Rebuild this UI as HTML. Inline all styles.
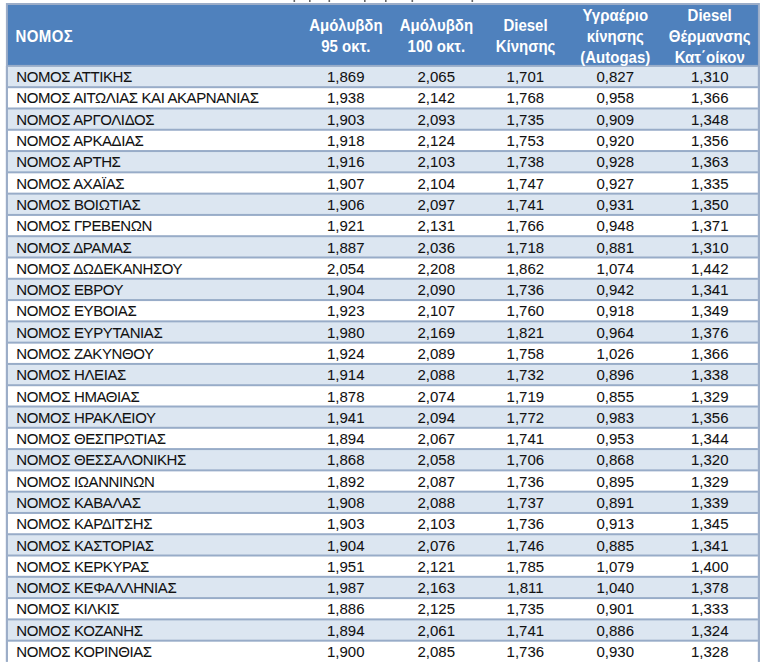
<!DOCTYPE html>
<html><head><meta charset="utf-8"><style>
html,body{margin:0;padding:0;background:#fff;}
body{width:768px;height:668px;overflow:hidden;position:relative;font-family:"Liberation Sans",sans-serif;}
svg{position:absolute;left:0;top:0;}
.t{position:absolute;font-size:15px;line-height:21px;color:#111;white-space:nowrap;-webkit-text-stroke:0.05px #111;transform:scaleY(1.03);transform-origin:0 15.7px;}
.n{letter-spacing:-0.4px;}
.c{width:120px;text-align:center;letter-spacing:0px;}
.h{position:absolute;font-size:15px;font-weight:bold;color:#fff;white-space:nowrap;text-align:center;width:140px;line-height:19.8px;transform:scaleY(1.06);transform-origin:0 0;}
</style></head><body>

<svg width="768" height="668" viewBox="0 0 768 668">
<rect x="293.5" y="0" width="1.6" height="2" fill="#666"/>
<rect x="309" y="0" width="1.6" height="2" fill="#666"/>
<rect x="328.5" y="0" width="1.6" height="2" fill="#666"/>
<rect x="364" y="0" width="1.6" height="2" fill="#666"/>
<rect x="385" y="0" width="1.6" height="2" fill="#666"/>
<rect x="411.5" y="0" width="1.6" height="2" fill="#666"/>
<rect x="471.5" y="0" width="1.6" height="2" fill="#666"/>
<rect x="5.9" y="3" width="754.0" height="658.8" fill="#9cadc8"/>
<rect x="7.9" y="5" width="750.0" height="60.900000000000006" fill="#4f81bd"/>
<rect x="7.9" y="65.90" width="750.0" height="21.29" fill="#dce6f1"/>
<rect x="7.9" y="87.19" width="750.0" height="21.29" fill="#ffffff"/>
<rect x="7.9" y="108.48" width="750.0" height="21.29" fill="#dce6f1"/>
<rect x="7.9" y="129.76" width="750.0" height="21.29" fill="#ffffff"/>
<rect x="7.9" y="151.05" width="750.0" height="21.29" fill="#dce6f1"/>
<rect x="7.9" y="172.34" width="750.0" height="21.29" fill="#ffffff"/>
<rect x="7.9" y="193.63" width="750.0" height="21.29" fill="#dce6f1"/>
<rect x="7.9" y="214.92" width="750.0" height="21.29" fill="#ffffff"/>
<rect x="7.9" y="236.20" width="750.0" height="21.29" fill="#dce6f1"/>
<rect x="7.9" y="257.49" width="750.0" height="21.29" fill="#ffffff"/>
<rect x="7.9" y="278.78" width="750.0" height="21.29" fill="#dce6f1"/>
<rect x="7.9" y="300.07" width="750.0" height="21.29" fill="#ffffff"/>
<rect x="7.9" y="321.36" width="750.0" height="21.29" fill="#dce6f1"/>
<rect x="7.9" y="342.64" width="750.0" height="21.29" fill="#ffffff"/>
<rect x="7.9" y="363.93" width="750.0" height="21.29" fill="#dce6f1"/>
<rect x="7.9" y="385.22" width="750.0" height="21.29" fill="#ffffff"/>
<rect x="7.9" y="406.51" width="750.0" height="21.29" fill="#dce6f1"/>
<rect x="7.9" y="427.80" width="750.0" height="21.29" fill="#ffffff"/>
<rect x="7.9" y="449.08" width="750.0" height="21.29" fill="#dce6f1"/>
<rect x="7.9" y="470.37" width="750.0" height="21.29" fill="#ffffff"/>
<rect x="7.9" y="491.66" width="750.0" height="21.29" fill="#dce6f1"/>
<rect x="7.9" y="512.95" width="750.0" height="21.29" fill="#ffffff"/>
<rect x="7.9" y="534.24" width="750.0" height="21.29" fill="#dce6f1"/>
<rect x="7.9" y="555.52" width="750.0" height="21.29" fill="#ffffff"/>
<rect x="7.9" y="576.81" width="750.0" height="21.29" fill="#dce6f1"/>
<rect x="7.9" y="598.10" width="750.0" height="21.29" fill="#ffffff"/>
<rect x="7.9" y="619.39" width="750.0" height="21.29" fill="#dce6f1"/>
<rect x="7.9" y="640.68" width="750.0" height="26.12" fill="#ffffff"/>
<rect x="7.9" y="64.90" width="750.0" height="2" fill="#98acc8"/>
<rect x="7.9" y="86.19" width="750.0" height="2" fill="#98acc8"/>
<rect x="7.9" y="107.48" width="750.0" height="2" fill="#98acc8"/>
<rect x="7.9" y="128.76" width="750.0" height="2" fill="#98acc8"/>
<rect x="7.9" y="150.05" width="750.0" height="2" fill="#98acc8"/>
<rect x="7.9" y="171.34" width="750.0" height="2" fill="#98acc8"/>
<rect x="7.9" y="192.63" width="750.0" height="2" fill="#98acc8"/>
<rect x="7.9" y="213.92" width="750.0" height="2" fill="#98acc8"/>
<rect x="7.9" y="235.20" width="750.0" height="2" fill="#98acc8"/>
<rect x="7.9" y="256.49" width="750.0" height="2" fill="#98acc8"/>
<rect x="7.9" y="277.78" width="750.0" height="2" fill="#98acc8"/>
<rect x="7.9" y="299.07" width="750.0" height="2" fill="#98acc8"/>
<rect x="7.9" y="320.36" width="750.0" height="2" fill="#98acc8"/>
<rect x="7.9" y="341.64" width="750.0" height="2" fill="#98acc8"/>
<rect x="7.9" y="362.93" width="750.0" height="2" fill="#98acc8"/>
<rect x="7.9" y="384.22" width="750.0" height="2" fill="#98acc8"/>
<rect x="7.9" y="405.51" width="750.0" height="2" fill="#98acc8"/>
<rect x="7.9" y="426.80" width="750.0" height="2" fill="#98acc8"/>
<rect x="7.9" y="448.08" width="750.0" height="2" fill="#98acc8"/>
<rect x="7.9" y="469.37" width="750.0" height="2" fill="#98acc8"/>
<rect x="7.9" y="490.66" width="750.0" height="2" fill="#98acc8"/>
<rect x="7.9" y="511.95" width="750.0" height="2" fill="#98acc8"/>
<rect x="7.9" y="533.24" width="750.0" height="2" fill="#98acc8"/>
<rect x="7.9" y="554.52" width="750.0" height="2" fill="#98acc8"/>
<rect x="7.9" y="575.81" width="750.0" height="2" fill="#98acc8"/>
<rect x="7.9" y="597.10" width="750.0" height="2" fill="#98acc8"/>
<rect x="7.9" y="618.39" width="750.0" height="2" fill="#98acc8"/>
<rect x="7.9" y="639.68" width="750.0" height="2" fill="#98acc8"/>
<rect x="0" y="661.8" width="768" height="20" fill="#fff"/>
<rect x="5.9" y="65.9" width="2" height="595.9" fill="#9cadc8"/>
<rect x="757.9" y="65.9" width="2" height="595.9" fill="#9cadc8"/>
</svg>
<div class="t n" style="left:16.3px;top:66.20px">ΝΟΜΟΣ ΑΤΤΙΚΗΣ</div>
<div class="t c" style="left:285.80px;top:66.20px">1,869</div>
<div class="t c" style="left:376.30px;top:66.20px">2,065</div>
<div class="t c" style="left:465.40px;top:66.20px">1,701</div>
<div class="t c" style="left:555.30px;top:66.20px">0,827</div>
<div class="t c" style="left:649.80px;top:66.20px">1,310</div>
<div class="t n" style="left:16.3px;top:87.49px">ΝΟΜΟΣ ΑΙΤΩΛΙΑΣ ΚΑΙ ΑΚΑΡΝΑΝΙΑΣ</div>
<div class="t c" style="left:285.80px;top:87.49px">1,938</div>
<div class="t c" style="left:376.30px;top:87.49px">2,142</div>
<div class="t c" style="left:465.40px;top:87.49px">1,768</div>
<div class="t c" style="left:555.30px;top:87.49px">0,958</div>
<div class="t c" style="left:649.80px;top:87.49px">1,366</div>
<div class="t n" style="left:16.3px;top:108.78px">ΝΟΜΟΣ ΑΡΓΟΛΙΔΟΣ</div>
<div class="t c" style="left:285.80px;top:108.78px">1,903</div>
<div class="t c" style="left:376.30px;top:108.78px">2,093</div>
<div class="t c" style="left:465.40px;top:108.78px">1,735</div>
<div class="t c" style="left:555.30px;top:108.78px">0,909</div>
<div class="t c" style="left:649.80px;top:108.78px">1,348</div>
<div class="t n" style="left:16.3px;top:130.06px">ΝΟΜΟΣ ΑΡΚΑΔΙΑΣ</div>
<div class="t c" style="left:285.80px;top:130.06px">1,918</div>
<div class="t c" style="left:376.30px;top:130.06px">2,124</div>
<div class="t c" style="left:465.40px;top:130.06px">1,753</div>
<div class="t c" style="left:555.30px;top:130.06px">0,920</div>
<div class="t c" style="left:649.80px;top:130.06px">1,356</div>
<div class="t n" style="left:16.3px;top:151.35px">ΝΟΜΟΣ ΑΡΤΗΣ</div>
<div class="t c" style="left:285.80px;top:151.35px">1,916</div>
<div class="t c" style="left:376.30px;top:151.35px">2,103</div>
<div class="t c" style="left:465.40px;top:151.35px">1,738</div>
<div class="t c" style="left:555.30px;top:151.35px">0,928</div>
<div class="t c" style="left:649.80px;top:151.35px">1,363</div>
<div class="t n" style="left:16.3px;top:172.64px">ΝΟΜΟΣ ΑΧΑΪΑΣ</div>
<div class="t c" style="left:285.80px;top:172.64px">1,907</div>
<div class="t c" style="left:376.30px;top:172.64px">2,104</div>
<div class="t c" style="left:465.40px;top:172.64px">1,747</div>
<div class="t c" style="left:555.30px;top:172.64px">0,927</div>
<div class="t c" style="left:649.80px;top:172.64px">1,335</div>
<div class="t n" style="left:16.3px;top:193.93px">ΝΟΜΟΣ ΒΟΙΩΤΙΑΣ</div>
<div class="t c" style="left:285.80px;top:193.93px">1,906</div>
<div class="t c" style="left:376.30px;top:193.93px">2,097</div>
<div class="t c" style="left:465.40px;top:193.93px">1,741</div>
<div class="t c" style="left:555.30px;top:193.93px">0,931</div>
<div class="t c" style="left:649.80px;top:193.93px">1,350</div>
<div class="t n" style="left:16.3px;top:215.22px">ΝΟΜΟΣ ΓΡΕΒΕΝΩΝ</div>
<div class="t c" style="left:285.80px;top:215.22px">1,921</div>
<div class="t c" style="left:376.30px;top:215.22px">2,131</div>
<div class="t c" style="left:465.40px;top:215.22px">1,766</div>
<div class="t c" style="left:555.30px;top:215.22px">0,948</div>
<div class="t c" style="left:649.80px;top:215.22px">1,371</div>
<div class="t n" style="left:16.3px;top:236.50px">ΝΟΜΟΣ ΔΡΑΜΑΣ</div>
<div class="t c" style="left:285.80px;top:236.50px">1,887</div>
<div class="t c" style="left:376.30px;top:236.50px">2,036</div>
<div class="t c" style="left:465.40px;top:236.50px">1,718</div>
<div class="t c" style="left:555.30px;top:236.50px">0,881</div>
<div class="t c" style="left:649.80px;top:236.50px">1,310</div>
<div class="t n" style="left:16.3px;top:257.79px">ΝΟΜΟΣ ΔΩΔΕΚΑΝΗΣΟΥ</div>
<div class="t c" style="left:285.80px;top:257.79px">2,054</div>
<div class="t c" style="left:376.30px;top:257.79px">2,208</div>
<div class="t c" style="left:465.40px;top:257.79px">1,862</div>
<div class="t c" style="left:555.30px;top:257.79px">1,074</div>
<div class="t c" style="left:649.80px;top:257.79px">1,442</div>
<div class="t n" style="left:16.3px;top:279.08px">ΝΟΜΟΣ ΕΒΡΟΥ</div>
<div class="t c" style="left:285.80px;top:279.08px">1,904</div>
<div class="t c" style="left:376.30px;top:279.08px">2,090</div>
<div class="t c" style="left:465.40px;top:279.08px">1,736</div>
<div class="t c" style="left:555.30px;top:279.08px">0,942</div>
<div class="t c" style="left:649.80px;top:279.08px">1,341</div>
<div class="t n" style="left:16.3px;top:300.37px">ΝΟΜΟΣ ΕΥΒΟΙΑΣ</div>
<div class="t c" style="left:285.80px;top:300.37px">1,923</div>
<div class="t c" style="left:376.30px;top:300.37px">2,107</div>
<div class="t c" style="left:465.40px;top:300.37px">1,760</div>
<div class="t c" style="left:555.30px;top:300.37px">0,918</div>
<div class="t c" style="left:649.80px;top:300.37px">1,349</div>
<div class="t n" style="left:16.3px;top:321.66px">ΝΟΜΟΣ ΕΥΡΥΤΑΝΙΑΣ</div>
<div class="t c" style="left:285.80px;top:321.66px">1,980</div>
<div class="t c" style="left:376.30px;top:321.66px">2,169</div>
<div class="t c" style="left:465.40px;top:321.66px">1,821</div>
<div class="t c" style="left:555.30px;top:321.66px">0,964</div>
<div class="t c" style="left:649.80px;top:321.66px">1,376</div>
<div class="t n" style="left:16.3px;top:342.94px">ΝΟΜΟΣ ΖΑΚΥΝΘΟΥ</div>
<div class="t c" style="left:285.80px;top:342.94px">1,924</div>
<div class="t c" style="left:376.30px;top:342.94px">2,089</div>
<div class="t c" style="left:465.40px;top:342.94px">1,758</div>
<div class="t c" style="left:555.30px;top:342.94px">1,026</div>
<div class="t c" style="left:649.80px;top:342.94px">1,366</div>
<div class="t n" style="left:16.3px;top:364.23px">ΝΟΜΟΣ ΗΛΕΙΑΣ</div>
<div class="t c" style="left:285.80px;top:364.23px">1,914</div>
<div class="t c" style="left:376.30px;top:364.23px">2,088</div>
<div class="t c" style="left:465.40px;top:364.23px">1,732</div>
<div class="t c" style="left:555.30px;top:364.23px">0,896</div>
<div class="t c" style="left:649.80px;top:364.23px">1,338</div>
<div class="t n" style="left:16.3px;top:385.52px">ΝΟΜΟΣ ΗΜΑΘΙΑΣ</div>
<div class="t c" style="left:285.80px;top:385.52px">1,878</div>
<div class="t c" style="left:376.30px;top:385.52px">2,074</div>
<div class="t c" style="left:465.40px;top:385.52px">1,719</div>
<div class="t c" style="left:555.30px;top:385.52px">0,855</div>
<div class="t c" style="left:649.80px;top:385.52px">1,329</div>
<div class="t n" style="left:16.3px;top:406.81px">ΝΟΜΟΣ ΗΡΑΚΛΕΙΟΥ</div>
<div class="t c" style="left:285.80px;top:406.81px">1,941</div>
<div class="t c" style="left:376.30px;top:406.81px">2,094</div>
<div class="t c" style="left:465.40px;top:406.81px">1,772</div>
<div class="t c" style="left:555.30px;top:406.81px">0,983</div>
<div class="t c" style="left:649.80px;top:406.81px">1,356</div>
<div class="t n" style="left:16.3px;top:428.10px">ΝΟΜΟΣ ΘΕΣΠΡΩΤΙΑΣ</div>
<div class="t c" style="left:285.80px;top:428.10px">1,894</div>
<div class="t c" style="left:376.30px;top:428.10px">2,067</div>
<div class="t c" style="left:465.40px;top:428.10px">1,741</div>
<div class="t c" style="left:555.30px;top:428.10px">0,953</div>
<div class="t c" style="left:649.80px;top:428.10px">1,344</div>
<div class="t n" style="left:16.3px;top:449.38px">ΝΟΜΟΣ ΘΕΣΣΑΛΟΝΙΚΗΣ</div>
<div class="t c" style="left:285.80px;top:449.38px">1,868</div>
<div class="t c" style="left:376.30px;top:449.38px">2,058</div>
<div class="t c" style="left:465.40px;top:449.38px">1,706</div>
<div class="t c" style="left:555.30px;top:449.38px">0,868</div>
<div class="t c" style="left:649.80px;top:449.38px">1,320</div>
<div class="t n" style="left:16.3px;top:470.67px">ΝΟΜΟΣ ΙΩΑΝΝΙΝΩΝ</div>
<div class="t c" style="left:285.80px;top:470.67px">1,892</div>
<div class="t c" style="left:376.30px;top:470.67px">2,087</div>
<div class="t c" style="left:465.40px;top:470.67px">1,736</div>
<div class="t c" style="left:555.30px;top:470.67px">0,895</div>
<div class="t c" style="left:649.80px;top:470.67px">1,329</div>
<div class="t n" style="left:16.3px;top:491.96px">ΝΟΜΟΣ ΚΑΒΑΛΑΣ</div>
<div class="t c" style="left:285.80px;top:491.96px">1,908</div>
<div class="t c" style="left:376.30px;top:491.96px">2,088</div>
<div class="t c" style="left:465.40px;top:491.96px">1,737</div>
<div class="t c" style="left:555.30px;top:491.96px">0,891</div>
<div class="t c" style="left:649.80px;top:491.96px">1,339</div>
<div class="t n" style="left:16.3px;top:513.25px">ΝΟΜΟΣ ΚΑΡΔΙΤΣΗΣ</div>
<div class="t c" style="left:285.80px;top:513.25px">1,903</div>
<div class="t c" style="left:376.30px;top:513.25px">2,103</div>
<div class="t c" style="left:465.40px;top:513.25px">1,736</div>
<div class="t c" style="left:555.30px;top:513.25px">0,913</div>
<div class="t c" style="left:649.80px;top:513.25px">1,345</div>
<div class="t n" style="left:16.3px;top:534.54px">ΝΟΜΟΣ ΚΑΣΤΟΡΙΑΣ</div>
<div class="t c" style="left:285.80px;top:534.54px">1,904</div>
<div class="t c" style="left:376.30px;top:534.54px">2,076</div>
<div class="t c" style="left:465.40px;top:534.54px">1,746</div>
<div class="t c" style="left:555.30px;top:534.54px">0,885</div>
<div class="t c" style="left:649.80px;top:534.54px">1,341</div>
<div class="t n" style="left:16.3px;top:555.82px">ΝΟΜΟΣ ΚΕΡΚΥΡΑΣ</div>
<div class="t c" style="left:285.80px;top:555.82px">1,951</div>
<div class="t c" style="left:376.30px;top:555.82px">2,121</div>
<div class="t c" style="left:465.40px;top:555.82px">1,785</div>
<div class="t c" style="left:555.30px;top:555.82px">1,079</div>
<div class="t c" style="left:649.80px;top:555.82px">1,400</div>
<div class="t n" style="left:16.3px;top:577.11px">ΝΟΜΟΣ ΚΕΦΑΛΛΗΝΙΑΣ</div>
<div class="t c" style="left:285.80px;top:577.11px">1,987</div>
<div class="t c" style="left:376.30px;top:577.11px">2,163</div>
<div class="t c" style="left:465.40px;top:577.11px">1,811</div>
<div class="t c" style="left:555.30px;top:577.11px">1,040</div>
<div class="t c" style="left:649.80px;top:577.11px">1,378</div>
<div class="t n" style="left:16.3px;top:598.40px">ΝΟΜΟΣ ΚΙΛΚΙΣ</div>
<div class="t c" style="left:285.80px;top:598.40px">1,886</div>
<div class="t c" style="left:376.30px;top:598.40px">2,125</div>
<div class="t c" style="left:465.40px;top:598.40px">1,735</div>
<div class="t c" style="left:555.30px;top:598.40px">0,901</div>
<div class="t c" style="left:649.80px;top:598.40px">1,333</div>
<div class="t n" style="left:16.3px;top:619.69px">ΝΟΜΟΣ ΚΟΖΑΝΗΣ</div>
<div class="t c" style="left:285.80px;top:619.69px">1,894</div>
<div class="t c" style="left:376.30px;top:619.69px">2,061</div>
<div class="t c" style="left:465.40px;top:619.69px">1,741</div>
<div class="t c" style="left:555.30px;top:619.69px">0,886</div>
<div class="t c" style="left:649.80px;top:619.69px">1,324</div>
<div class="t n" style="left:16.3px;top:640.98px">ΝΟΜΟΣ ΚΟΡΙΝΘΙΑΣ</div>
<div class="t c" style="left:285.80px;top:640.98px">1,900</div>
<div class="t c" style="left:376.30px;top:640.98px">2,085</div>
<div class="t c" style="left:465.40px;top:640.98px">1,736</div>
<div class="t c" style="left:555.30px;top:640.98px">0,930</div>
<div class="t c" style="left:649.80px;top:640.98px">1,328</div>
<div class="h" style="left:275.90px;top:15.00px">Αμόλυβδη<br>95 οκτ.</div>
<div class="h" style="left:366.40px;top:15.00px">Αμόλυβδη<br>100 οκτ.</div>
<div class="h" style="left:455.50px;top:15.00px">Diesel<br>Κίνησης</div>
<div class="h" style="left:545.30px;top:5.20px">Υγραέριο<br>κίνησης<br>(Autogas)</div>
<div class="h" style="left:639.70px;top:5.20px">Diesel<br>Θέρμανσης<br>Κατ΄οίκον</div>
<div class="h" style="left:15.5px;top:26px;text-align:left;width:auto;letter-spacing:0.4px">ΝΟΜΟΣ</div>
</body></html>
